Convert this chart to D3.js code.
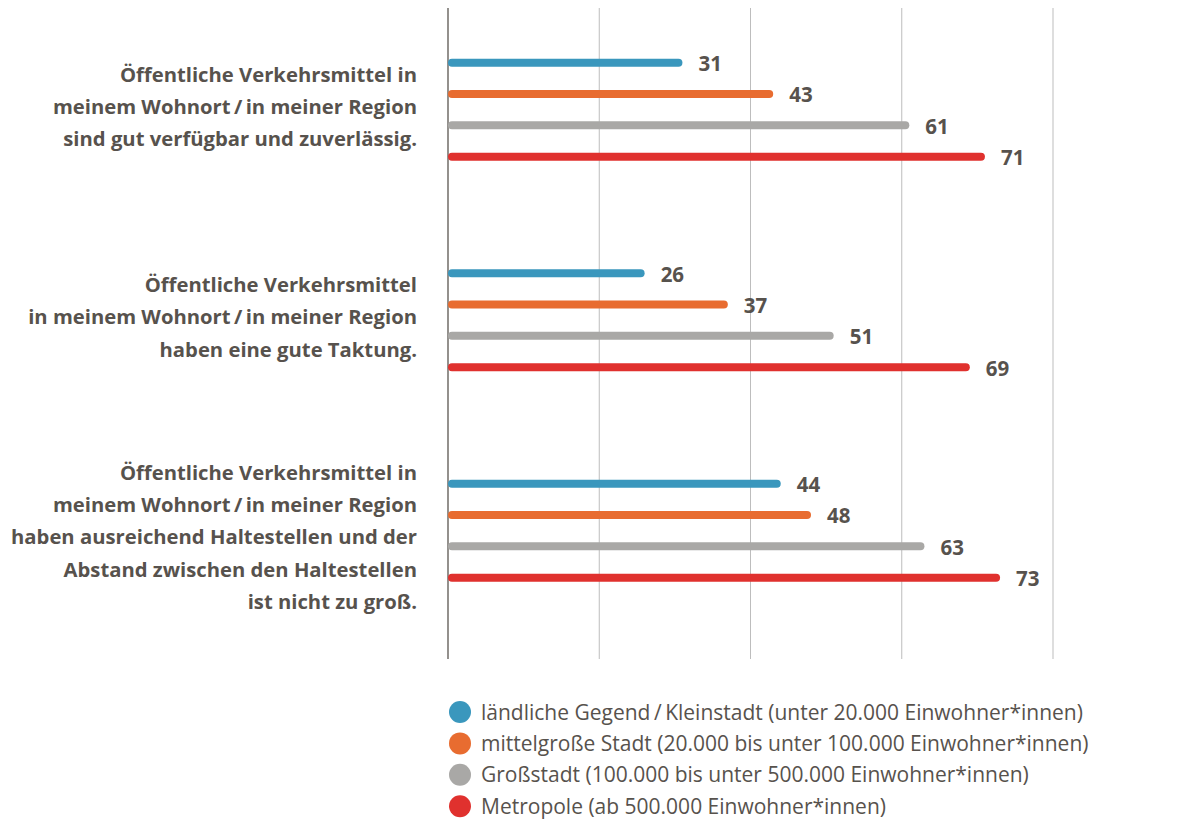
<!DOCTYPE html>
<html>
<head>
<meta charset="utf-8">
<script src="https://cdn.jsdelivr.net/npm/d3@7"></script>
<style>
  body { margin: 0; background: #fff; }
  text { font-family: "Open Sans", sans-serif; }
</style>
</head>
<body>
<div id="chart"></div>
<script>
// data
const statements = [
  ["Öffentliche Verkehrsmittel in", "meinem Wohnort\u2009/\u2009in meiner Region", "sind gut verfügbar und zuverlässig."],
  ["Öffentliche Verkehrsmittel", "in meinem Wohnort\u2009/\u2009in meiner Region", "haben eine gute Taktung."],
  ["Öffentliche Verkehrsmittel in", "meinem Wohnort\u2009/\u2009in meiner Region", "haben ausreichend Haltestellen und der", "Abstand zwischen den Haltestellen", "ist nicht zu groß."]
];
const seriesNames = [
  "ländliche Gegend\u2009/\u2009Kleinstadt (unter 20.000 Einwohner*innen)",
  "mittelgroße Stadt (20.000 bis unter 100.000 Einwohner*innen)",
  "Großstadt (100.000 bis unter 500.000 Einwohner*innen)",
  "Metropole (ab 500.000 Einwohner*innen)"
];
const laendlich = [31, 26, 44];
const mittelgross = [43, 37, 48];
const grossstadt = [61, 51, 63];
const metropole = [71, 69, 73];
const gridTicks = [0, 20, 40, 60, 80];

const colors = ["#3a97bd", "#e86c30", "#a9a8a6", "#e0312e"];
const textColor = "#57524d";
const allSeries = [laendlich, mittelgross, grossstadt, metropole];

const width = 1192, height = 819;
const svg = d3.select("#chart").append("svg")
  .attr("width", width).attr("height", height);

const x = d3.scaleLinear().domain([0, 80]).range([448, 1053]);
const yGroup = d3.scaleBand().domain(d3.range(statements.length))
  .range([47, 47 + 3 * 210.5]);
const ySeries = d3.scaleBand().domain(d3.range(4)).range([0, 125.3]);

// gridlines
svg.append("g").selectAll("line")
  .data(gridTicks.slice(1))
  .join("line")
  .attr("x1", d => x(d)).attr("x2", d => x(d))
  .attr("y1", 8).attr("y2", 659)
  .attr("stroke", "#bdbdbd").attr("stroke-width", 1);

// axis
svg.append("line")
  .attr("x1", x(0)).attr("x2", x(0))
  .attr("y1", 8).attr("y2", 659)
  .attr("stroke", "#5a5550").attr("stroke-width", 1.3);

// bars
statements.forEach((lines, gi) => {
  const g = svg.append("g").attr("transform", `translate(0,${yGroup(gi)})`);
  allSeries.forEach((vals, si) => {
    const cy = ySeries(si) + ySeries.bandwidth() / 2;
    g.append("line")
      .attr("x1", x(0) + 4).attr("x2", x(vals[gi]) - 4)
      .attr("y1", cy).attr("y2", cy)
      .attr("stroke", colors[si]).attr("stroke-width", 8)
      .attr("stroke-linecap", "round");
    g.append("text")
      .attr("x", x(vals[gi]) + 16).attr("y", cy + 1)
      .attr("dy", "0.36em")
      .attr("font-size", 20.5).attr("font-weight", 700)
      .attr("fill", textColor)
      .text(vals[gi]);
  });
  // category label, roughly centred on the bar group
  const lh = 32.2;
  const barMid = ySeries.bandwidth() / 2 + (ySeries(3) - ySeries(0)) / 2;
  const center = barMid - 3 + (lines.length - 3) * 4.75;
  const top = center - (lines.length - 1) * lh / 2;
  g.append("text")
    .attr("text-anchor", "end")
    .attr("font-size", 20.25).attr("font-weight", 700)
    .attr("fill", textColor)
    .selectAll("tspan").data(lines).join("tspan")
    .attr("x", 417).attr("y", (d, i) => top + i * lh)
    .attr("dy", "0.36em")
    .text(d => d);
});

// legend
const legend = svg.append("g").selectAll("g")
  .data(seriesNames).join("g")
  .attr("transform", (d, i) => `translate(460,${712 + i * 31.4})`);
legend.append("circle").attr("r", 11).attr("fill", (d, i) => colors[i]);
legend.append("text")
  .attr("x", 21).attr("dy", "0.36em")
  .attr("font-size", 21).attr("fill", textColor)
  .text(d => d);
</script>
</body>
</html>
